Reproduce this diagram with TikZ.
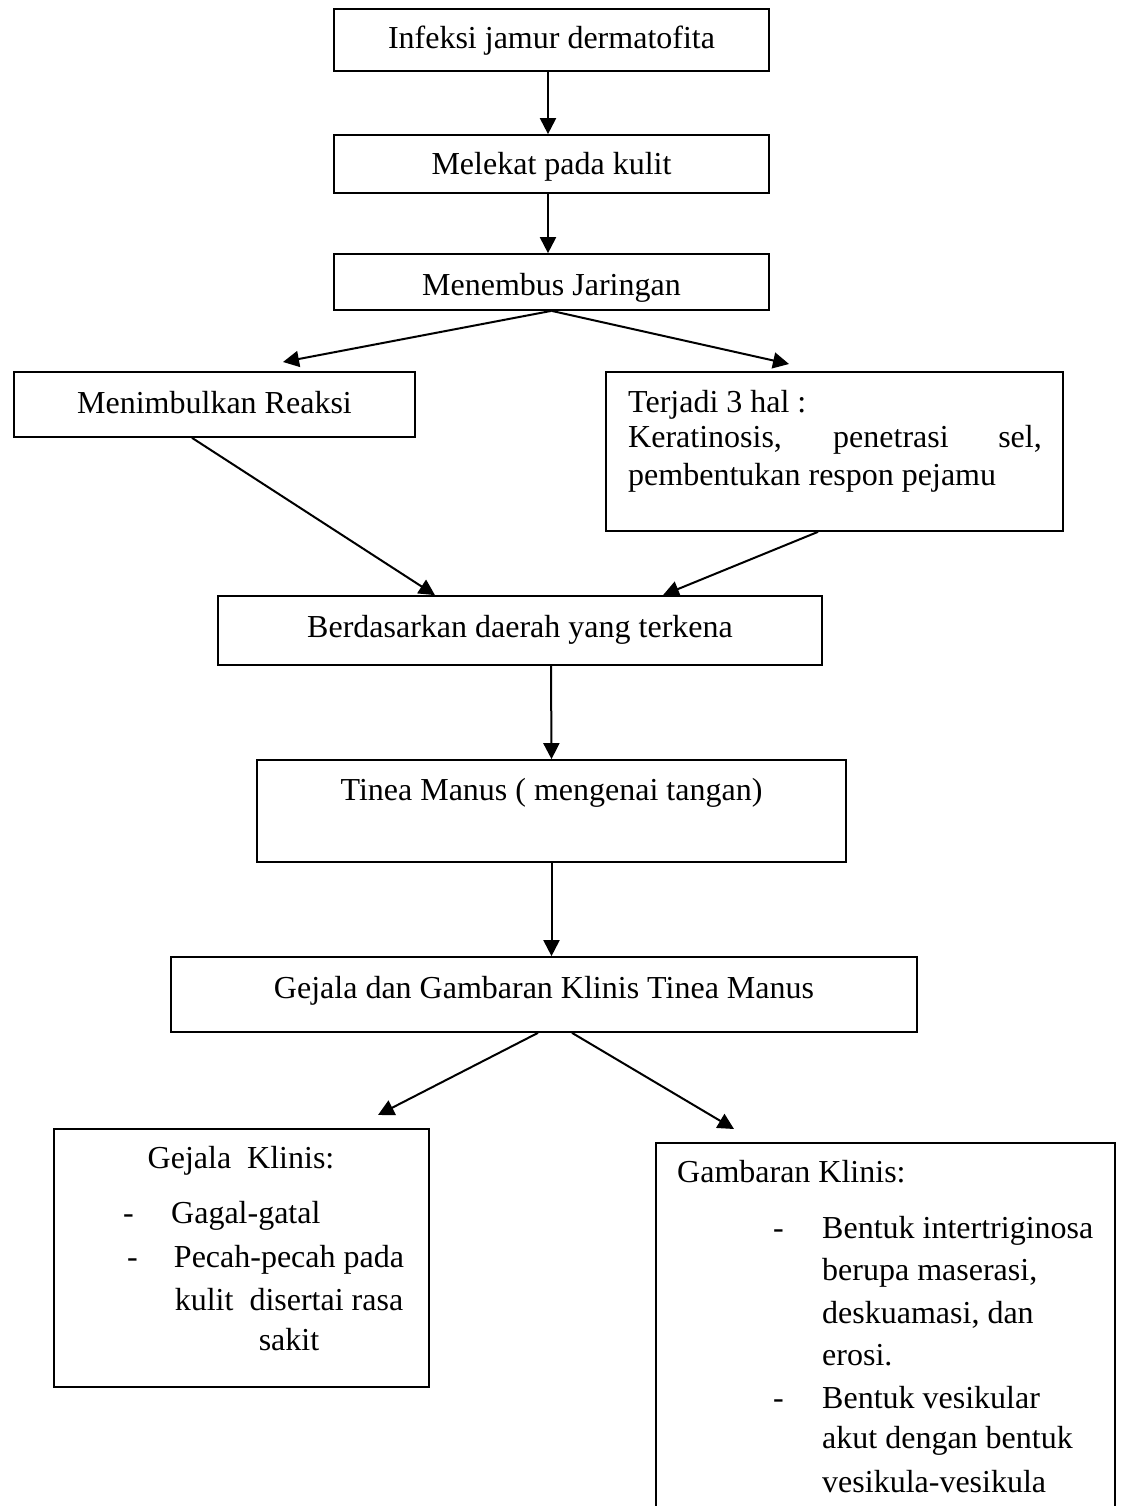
\documentclass[tikz,border=0pt]{standalone}
\usepackage{fontspec}
\setmainfont{Liberation Serif}
\usetikzlibrary{arrows.meta}
\begin{document}
\begin{tikzpicture}[x=1pt,y=-1pt]
\tikzset{
 box/.style={draw=black, line width=1.7pt, rectangle, inner sep=0pt},
 lbl/.style={inner sep=0pt, anchor=base, font=\fontsize{32}{37}\selectfont},
 lblw/.style={lbl, anchor=base west},
 lble/.style={lbl, anchor=base east},
 arr/.style={line width=2pt, -{Triangle[length=16pt,width=16pt]}},
}
\useasboundingbox (0,0) rectangle (1120,1506);
\fill[white] (0,0) rectangle (1120,1506);
\clip (0,0) rectangle (1120,1506);

% boxes
\node[box, minimum width=435pt, minimum height=62pt] (b1) at (551.5,40) {};
\node[box, minimum width=435pt, minimum height=58pt] (b2) at (551.5,164) {};
\node[box, minimum width=435pt, minimum height=56pt] (b3) at (551.5,282) {};
\node[box, minimum width=401pt, minimum height=65pt] (b4) at (214.5,404.5) {};
\node[box, minimum width=457pt, minimum height=159pt] (b5) at (834.5,451.5) {};
\node[box, minimum width=604pt, minimum height=69pt] (b6) at (520,630.5) {};
\node[box, minimum width=589pt, minimum height=102pt] (b7) at (551.5,811) {};
\node[box, minimum width=746pt, minimum height=75pt] (b8) at (544,994.5) {};
\node[box, minimum width=375pt, minimum height=258pt] (b9) at (241.5,1258) {};
\node[box, minimum width=459pt, minimum height=387pt] (b10) at (885.5,1336.5) {};

% texts
\node[lbl] (t1) at (551.5,49) {Infeksi jamur dermatofita};
\node[lbl] (t2) at (551.5,175) {Melekat pada kulit};
\node[lbl] (t3) at (551.5,295) {Menembus Jaringan};
\node[lbl] (t4) at (214.5,413) {Menimbulkan Reaksi};
\node[lblw] (t5a) at (628,412) {Terjadi 3 hal :};
\node[lblw] (t5b) at (628,447) {Keratinosis,};
\node[lblw] (t5c) at (833,447) {penetrasi};
\node[lble] (t5d) at (1042,447) {sel,};
\node[lblw] (t5e) at (628,485) {pembentukan respon pejamu};
\node[lbl] (t6) at (520,637) {Berdasarkan daerah yang terkena};
\node[lbl] (t7) at (551.5,800) {Tinea Manus ( mengenai tangan)};
\node[lbl] (t8) at (544,998) {Gejala dan Gambaran Klinis Tinea Manus};

\node[lbl] (t9a) at (241,1168) {Gejala~ Klinis:};
\node[lblw] (t9d1) at (123,1223) {-};
\node[lblw] (t9b) at (171,1223) {Gagal-gatal};
\node[lblw] (t9d2) at (127,1267) {-};
\node[lbl] (t9c) at (289,1267) {Pecah-pecah pada};
\node[lbl] (t9e) at (289,1310) {kulit~ disertai rasa};
\node[lbl] (t9f) at (289,1350) {sakit};

\node[lblw] (t10a) at (677,1182) {Gambaran Klinis:};
\node[lblw] (t10d1) at (773,1238) {-};
\node[lblw] (t10b) at (822,1238) {Bentuk intertriginosa};
\node[lblw] (t10c) at (822,1280) {berupa maserasi,};
\node[lblw] (t10e) at (822,1323) {deskuamasi, dan};
\node[lblw] (t10f) at (822,1365) {erosi.};
\node[lblw] (t10d2) at (773,1408) {-};
\node[lblw] (t10g) at (822,1408) {Bentuk vesikular};
\node[lblw] (t10h) at (822,1448) {akut dengan bentuk};
\node[lblw] (t10i) at (822,1492) {vesikula-vesikula};

% free arrow ends
\coordinate (L1) at (283,362);
\coordinate (R1) at (789,364);
\coordinate (L2) at (378,1115);
\coordinate (R2) at (734,1129);

% connectors
\draw[arr] ([xshift=-3.5pt]b1.south) -- ([xshift=-3.5pt]b2.north);
\draw[arr] ([xshift=-3.5pt]b2.south) -- ([xshift=-3.5pt]b3.north);
\draw[arr] (b3.south) -- (L1);
\draw[arr] (b3.south) -- (R1);
\draw[arr] ([xshift=-22.5pt]b4.south) -- ([xshift=-85pt]b6.north);
\draw[arr] ([xshift=-16.5pt]b5.south) -- ([xshift=143pt]b6.north);
\draw[arr] ([xshift=31pt]b6.south) -- (b7.north);
\draw[arr] (b7.south) -- ([xshift=7.5pt]b8.north);
\draw[arr] ([xshift=-6pt]b8.south) -- (L2);
\draw[arr] ([xshift=28pt]b8.south) -- (R2);
\end{tikzpicture}
\end{document}
